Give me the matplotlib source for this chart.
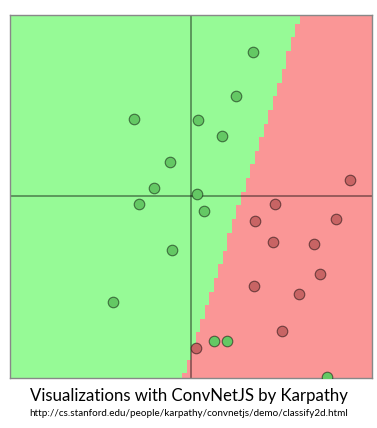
import numpy as np
import matplotlib.pyplot as plt
from matplotlib.colors import ListedColormap

# punkty klasy zielonej i czerwonej (wspolrzedne w ukladzie -5..5)
green_x = [1.70, 1.24, -1.57, 0.20, 0.85, -0.59, -1.02, 0.16, -1.43, 0.36, -0.54, -2.16, 0.63, 0.99, 3.74]
green_y = [3.98, 2.76, 2.14, 2.09, 1.66, 0.94, 0.23, 0.06, -0.21, -0.40, -1.49, -2.92, -4.00, -4.00, -4.99]
red_x = [4.38, 2.32, 1.76, 3.99, 2.26, 3.40, 3.56, 1.72, 2.97, 2.51, 0.13]
red_y = [0.44, -0.21, -0.69, -0.62, -1.26, -1.32, -2.14, -2.47, -2.69, -3.72, -4.19]

# granica decyzyjna: x na gorze (y=5) i na dole (y=-5)
bound_top = 3.03
bound_bottom = -0.22
ngrid = 80

fig = plt.figure(figsize=(3.77, 4.28), dpi=100)
ax = fig.add_axes([0.0273, 0.1175, 0.960, 0.848])

edges = np.linspace(-5, 5, ngrid + 1)
centers = (edges[:-1] + edges[1:]) / 2
X, Y = np.meshgrid(centers, centers)
bx = bound_bottom + (bound_top - bound_bottom) * (Y + 5) / 10
cls = (X > bx).astype(int)
cmap = ListedColormap(['#96fa96', '#fa9696'])
ax.pcolormesh(edges, edges, cls, cmap=cmap, vmin=0, vmax=1, shading='flat')

ax.axhline(0, color=(0, 0, 0, 0.5), lw=1.1)
ax.axvline(0, color=(0, 0, 0, 0.5), lw=1.1)

ax.scatter(green_x, green_y, s=58, color='#64c864', edgecolors=[(0, 0, 0, 0.5)], linewidths=0.8, zorder=3, clip_on=True)
ax.scatter(red_x, red_y, s=58, color='#c86464', edgecolors=[(0, 0, 0, 0.5)], linewidths=0.8, zorder=3, clip_on=True)

ax.set_xlim(-5, 5)
ax.set_ylim(-5, 5)
ax.set_xticks([])
ax.set_yticks([])
for sp in ax.spines.values():
    sp.set_color('#888888')
    sp.set_linewidth(1.0)

fig.text(0.5, 0.075, 'Visualizations with ConvNetJS by Karpathy', ha='center', va='center',
         fontsize=12.1, family='Lato')
fig.text(0.5, 0.033, 'http://cs.stanford.edu/people/karpathy/convnetjs/demo/classify2d.html',
         ha='center', va='center', fontsize=7.1, family='Lato')

fig.savefig('out.png', dpi=100)
